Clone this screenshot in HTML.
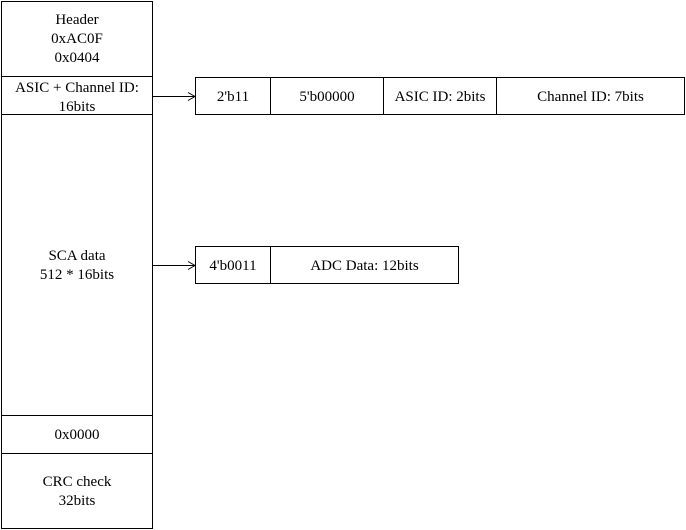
<!DOCTYPE html>
<html><head><style>
html,body{margin:0;padding:0;background:#fff}
.t{position:absolute;font-family:"Liberation Serif","Times New Roman",Times,serif;font-size:15px;line-height:19px;text-align:center;white-space:nowrap;color:#000}
</style></head><body>
<svg width="686" height="530" xmlns="http://www.w3.org/2000/svg" style="position:absolute;left:0;top:0">
<g fill="none" stroke="#000" stroke-width="1">
<rect x="1.5" y="1.5" width="151" height="527"/>
<line x1="1.5" y1="76.5" x2="152.5" y2="76.5"/>
<line x1="1.5" y1="114.5" x2="152.5" y2="114.5"/>
<line x1="1.5" y1="415.5" x2="152.5" y2="415.5"/>
<line x1="1.5" y1="453.5" x2="152.5" y2="453.5"/>
<rect x="195.5" y="77.5" width="489" height="37"/>
<line x1="270.5" y1="77.5" x2="270.5" y2="114.5"/>
<line x1="383.5" y1="77.5" x2="383.5" y2="114.5"/>
<line x1="496.5" y1="77.5" x2="496.5" y2="114.5"/>
<rect x="195.5" y="246.5" width="263" height="37"/>
<line x1="270.5" y1="246.5" x2="270.5" y2="283.5"/>
<line x1="152.5" y1="96.5" x2="195" y2="96.5"/>
<polyline points="188,92.5 195,96.5 188,100.5"/>
<line x1="152.5" y1="265.5" x2="195" y2="265.5"/>
<polyline points="188,261.5 195,265.5 188,269.5"/>
</g>
</svg>
<div class="t" style="left:2px;width:150px;top:11px">Header<br>0xAC0F<br>0x0404</div>
<div class="t" style="left:2px;width:150px;top:79px">ASIC + Channel ID:<br>16bits</div>
<div class="t" style="left:2px;width:150px;top:247px">SCA data<br>512 * 16bits</div>
<div class="t" style="left:2px;width:150px;top:426px">0x0000</div>
<div class="t" style="left:2px;width:150px;top:473px">CRC check<br>32bits</div>
<div class="t" style="left:196px;width:74px;top:88px">2'b11</div>
<div class="t" style="left:271px;width:112px;top:88px">5'b00000</div>
<div class="t" style="left:384px;width:112px;top:88px">ASIC ID: 2bits</div>
<div class="t" style="left:497px;width:187px;top:88px">Channel ID: 7bits</div>
<div class="t" style="left:196px;width:74px;top:257px">4'b0011</div>
<div class="t" style="left:271px;width:187px;top:257px">ADC Data: 12bits</div>
</body></html>
